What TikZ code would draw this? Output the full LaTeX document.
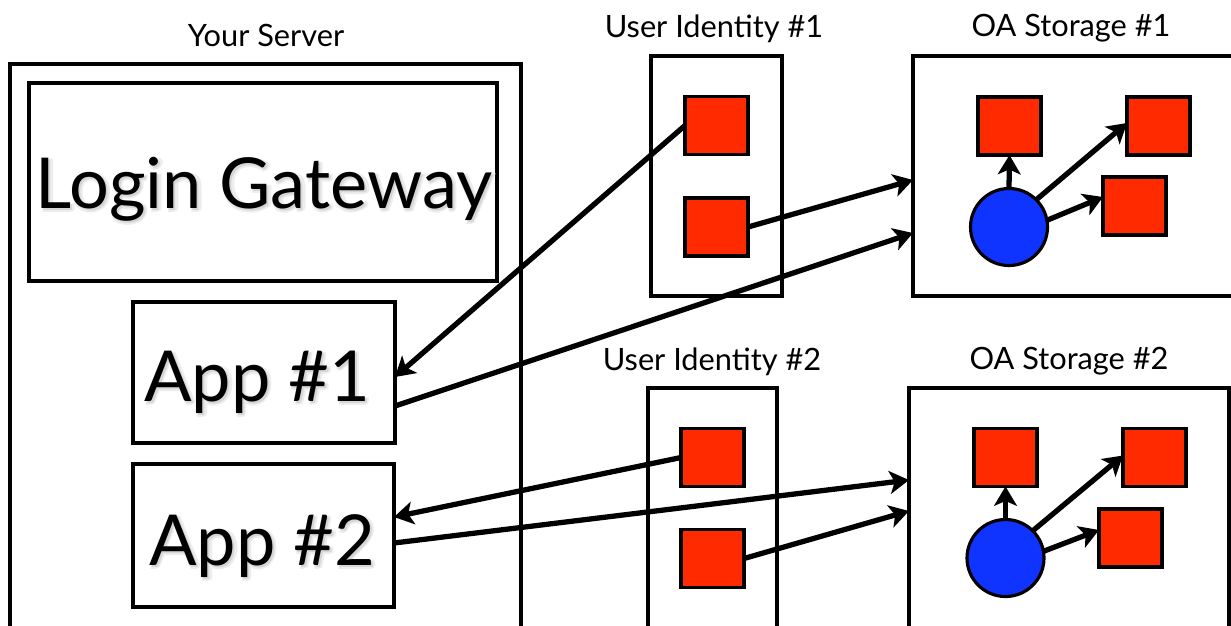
\documentclass[tikz,border=0pt]{standalone}
\usepackage{fontspec}
\setmainfont{Lato}
\usetikzlibrary{arrows.meta,calc}
\definecolor{keyred}{RGB}{255,42,0}
\definecolor{keyblue}{RGB}{16,52,255}

% text with a soft grey drop shadow, set in one box
\newcommand\shadowlayer[4]{\makebox[0pt][l]{\hspace{#1}\raisebox{#2}{\color{black!#3}#4}}}
\newcommand\softshadow[1]{%
  \shadowlayer{2.2pt}{-2.2pt}{7}{#1}%
  \shadowlayer{0.6pt}{-2.6pt}{7}{#1}%
  \shadowlayer{2.6pt}{-0.6pt}{7}{#1}%
  \shadowlayer{1.2pt}{-1.4pt}{16}{#1}%
  #1}

\begin{document}
\begin{tikzpicture}[x=0.2mm,y=-0.2mm,
  sized/.style 2 args={minimum width=#1*0.2mm,minimum height=#2*0.2mm},
  frame/.style={draw,line width=1.8pt,inner sep=0pt,outer sep=0pt,fill=white},
  keybox/.style={draw,line width=1.8pt,inner sep=0pt,outer sep=0pt,fill=keyred,
                 minimum width=63*0.2mm,minimum height=58*0.2mm},
  ball/.style={circle,draw,line width=1.8pt,inner sep=0pt,outer sep=0pt,fill=keyblue,
               minimum size=77*0.2mm},
  caption/.style={anchor=base,inner sep=0pt,font=\fontsize{17.5}{20}\selectfont},
  bigtext/.style={anchor=base,inner sep=0pt,font=\fontsize{40}{46}\selectfont},
  arr/.style={line width=3pt,-{Stealth[length=11pt,width=13pt,inset=2.8pt]}}]

\useasboundingbox (0,0) rectangle (1231,625);

% ---- your server ----
\node[frame,sized={511}{636}] (server) at (265.5,382) {};
\node[frame,sized={468}{198}] (gateway) at (263,182) {};
\node[frame,sized={262}{141}] (app1) at (264,372.5) {};
\node[frame,sized={261}{143}] (app2) at (263.5,535.5) {};
\node[caption] (serverlbl) at (266,46) {Your Server};

\node[bigtext] (gwlbl) at (264,208) {\softshadow{Login Gateway}};
\node[bigtext] (app1lbl) at (257,401) {\softshadow{App \#1}};
\node[bigtext] (app2lbl) at (262,565) {\softshadow{App \#2}};

% ---- user identities ----
\node[frame,sized={131}{240}] (ui1) at (716.5,176) {};
\node[keybox] (ui1a) at (716.5,125.5) {};
\node[keybox] (ui1b) at (716.5,227) {};
\node[caption] (ui1lbl) at (714,37) {User Identity \#1};

\node[frame,sized={129}{312}] (ui2) at (712.5,544) {};
\node[keybox] (ui2a) at (712.5,457.5) {};
\node[keybox] (ui2b) at (712.5,558.5) {};
\node[caption] (ui2lbl) at (712,370) {User Identity \#2};

% ---- OA storages ----
\node[frame,sized={327}{240}] (oa1) at (1076.5,176) {};
\node[keybox] (oa1a) at (1009.5,126) {};
\node[keybox] (oa1b) at (1158.5,126) {};
\node[keybox] (oa1c) at (1134.5,206) {};
\node[ball] (oa1o) at (1009,227) {};
\node[caption] (oa1lbl) at (1071,36) {OA Storage \#1};

\node[frame,sized={320}{312}] (oa2) at (1069,544) {};
\node[keybox] (oa2a) at (1005.5,457.5) {};
\node[keybox] (oa2b) at (1154.5,457.5) {};
\node[keybox] (oa2c) at (1130.5,538) {};
\node[ball] (oa2o) at (1005.5,558) {};
\node[caption] (oa2lbl) at (1069,369) {OA Storage \#2};

% ---- connectors ----
\draw[arr] (ui1a.west) -- ($(app1.east)+(0,4.5)$);
\draw[arr] ($(app1.east)+(0,33.5)$) -- ($(oa1.west)+(0,57)$);
\draw[arr] (ui1b.east) -- ($(oa1.west)+(0,4)$);

\draw[arr] (ui2a.west) -- ($(app2.east)+(0,-18.5)$);
\draw[arr] ($(app2.east)+(0,7.5)$) -- ($(oa2.west)+(0,-64)$);
\draw[arr] (ui2b.east) -- ($(oa2.west)+(0,-33)$);

\draw[arr] (oa1o.north) -- (oa1a.south);
\draw[arr] (oa1o.45) -- ($(oa1b.west)+(0,-3)$);
\draw[arr] (oa1o.10) -- ($(oa1c.west)+(0,-9)$);

\draw[arr] (oa2o.north) -- (oa2a.south);
\draw[arr] (oa2o.45) -- ($(oa2b.west)+(0,-2)$);
\draw[arr] (oa2o.10) -- ($(oa2c.west)+(0,-8)$);
\end{tikzpicture}
\end{document}
